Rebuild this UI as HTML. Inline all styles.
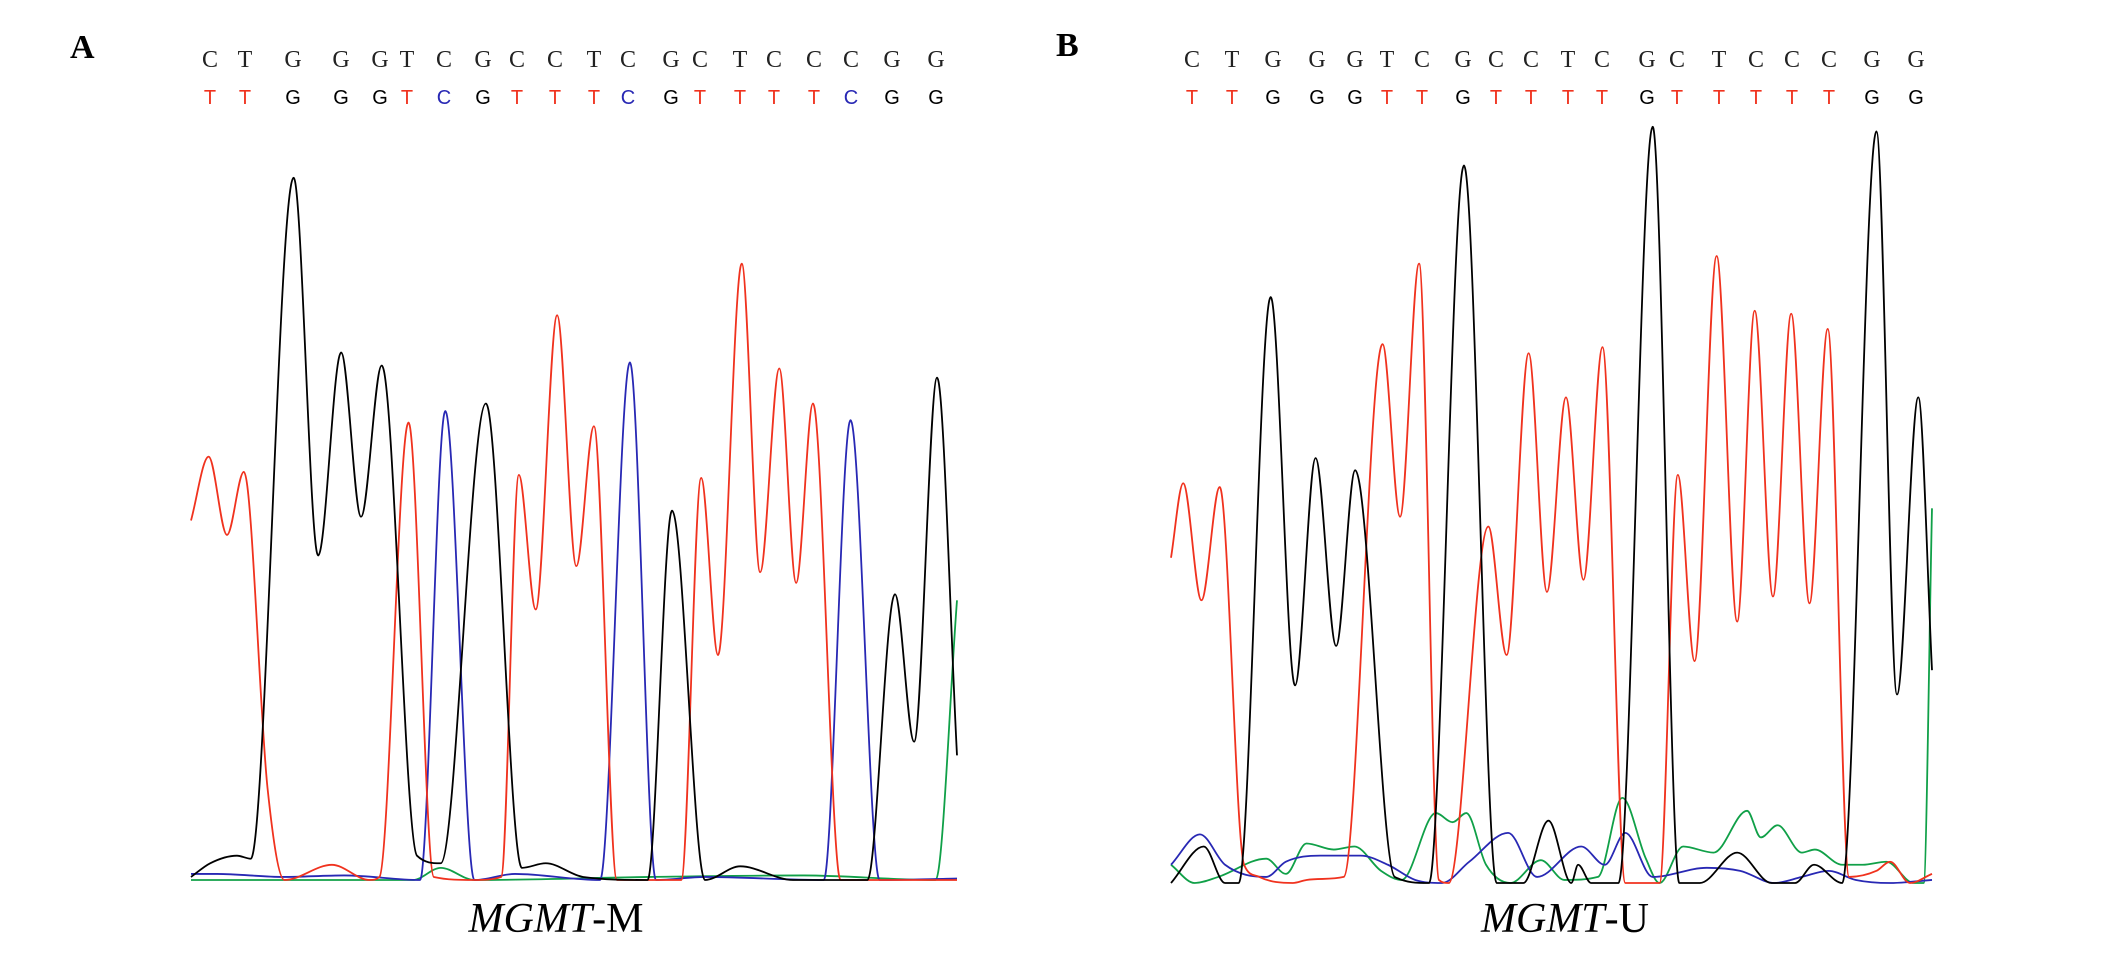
<!DOCTYPE html>
<html>
<head>
<meta charset="utf-8">
<style>
  html, body { margin: 0; padding: 0; background: #fff; }
  body { width: 2126px; height: 955px; overflow: hidden; }
  svg { display: block; }
</style>
</head>
<body>
<svg id="chart" width="2126" height="955" viewBox="0 0 2126 955" xmlns="http://www.w3.org/2000/svg">
  <text x="70" y="58" font-family="Liberation Serif, serif" font-weight="bold" font-size="34" fill="#000">A</text>
  <text x="1056" y="56" font-family="Liberation Serif, serif" font-weight="bold" font-size="34" fill="#000">B</text>
  <g id="panelA"></g>
  <g id="panelB"></g>
  <text x="556" y="932" text-anchor="middle" font-family="Liberation Serif, serif" font-size="42" fill="#000"><tspan font-style="italic">MGMT</tspan>-M</text>
  <text x="1565" y="932" text-anchor="middle" font-family="Liberation Serif, serif" font-size="42" fill="#000"><tspan font-style="italic">MGMT</tspan>-U</text>
</svg>
<script>
// ---- Panel A data (scan position 0..1000, intensity 0..1000) ----
const refSeqA = ["C","T","G","G","G","T","C","G","C","C","T","C","G","C","T","C","C","C","G","G"];
const bisSeqA = ["T","T","G","G","G","T","C","G","T","T","T","C","G","T","T","T","T","C","G","G"];
const seqPixA = [210,245,293,341,380,407,444,483,517,555,594,628,671,700,740,774,814,851,892,936];
const redA_scan = [0,23,47,69,100,122,184,233,246,284,317,370,405,428,450,478,503,526,556,640,666,688,719,743,768,790,812,848,1000];
const redA_int  = [473,557,454,537,120,0,20,0,4,602,4,0,4,533,356,743,413,597,0,0,529,296,811,405,673,391,627,0,0];
const blackA_scan = [0,25,60,78,134,166,196,222,249,295,326,385,432,463,512,596,628,671,717,786,883,919,944,974,1000];
const blackA_int  = [4,22,32,28,924,427,694,478,677,32,22,627,16,22,4,0,486,0,18,0,0,376,182,661,164];
const blueA_scan = [0,34,120,200,299,332,370,423,534,573,607,671,826,861,899,1000];
const blueA_int  = [8,8,4,6,0,617,0,8,0,681,0,4,0,605,0,2];
const greenA_scan = [0,150,290,326,370,600,800,972,1000];
const greenA_int  = [0,0,0,16,0,4,6,0,368];

// ---- Panel B data ----
const refSeqB = ["C","T","G","G","G","T","C","G","C","C","T","C","G","C","T","C","C","C","G","G"];
const bisSeqB = ["T","T","G","G","G","T","T","G","T","T","T","T","G","T","T","T","T","T","G","G"];
const seqPixB = [1192,1232,1273,1317,1355,1387,1422,1463,1496,1531,1568,1602,1647,1677,1719,1756,1792,1829,1872,1916];
const redB_scan = [0,16,40,64,96,116,160,178,227,278,301,326,352,365,417,441,470,494,519,542,567,597,642,666,688,717,744,767,791,815,839,863,891,927,945,971,1000];
const redB_int  = [428,526,372,521,24,8,0,4,8,709,482,815,4,0,469,300,697,383,639,399,705,0,0,537,292,825,344,753,377,749,368,729,8,16,28,0,12];
const blackB_scan = [0,43,71,89,131,163,190,217,242,294,339,385,428,463,496,526,535,552,588,633,668,695,744,789,820,845,882,927,954,982,1000];
const blackB_int  = [0,48,0,0,771,260,559,312,543,8,0,944,0,0,82,0,24,0,0,995,0,0,40,0,0,24,0,989,248,639,280];
const blueB_scan = [0,38,71,125,151,196,249,285,321,356,392,443,481,539,570,597,633,704,748,793,829,864,900,945,1000];
const blueB_int  = [24,64,24,8,28,36,36,24,4,0,28,66,8,48,24,66,8,20,16,0,8,16,4,0,4];
const greenB_scan = [0,31,62,125,151,178,214,241,276,303,348,370,388,414,446,486,517,561,593,624,642,673,713,757,775,797,829,846,882,909,940,976,989,1000];
const greenB_int  = [24,0,8,32,12,52,44,48,16,4,92,80,92,24,0,30,4,8,112,32,0,48,40,95,60,76,40,44,24,24,28,0,0,493];

const NS = "http://www.w3.org/2000/svg";
const COLORS = { red: "#f0321e", black: "#000000", blue: "#2828b4", green: "#10a048" };

function makeAxes(x0, x1, base) {
  return {
    x: s => x0 + (s / 1000) * (x1 - x0),
    y: v => base - (v / 1000) * 760
  };
}

// monotone cubic (Fritsch-Carlson) path
function monotonePath(xs, ys) {
  const n = xs.length;
  const d = [], m = new Array(n);
  for (let i = 0; i < n - 1; i++) d.push((ys[i+1]-ys[i])/((xs[i+1]-xs[i])||1e-6));
  m[0] = d[0]; m[n-1] = d[n-2];
  for (let i = 1; i < n - 1; i++) {
    if (d[i-1]*d[i] <= 0) m[i] = 0;
    else { m[i] = (d[i-1]+d[i])/2;
      const a = m[i]/d[i-1], b = m[i]/d[i], h = a*a+b*b;
      if (h > 9) { const t = 3/Math.sqrt(h); m[i] = t*(d[i-1]+d[i])/2; } }
  }
  let p = "M" + xs[0].toFixed(2) + "," + ys[0].toFixed(2);
  for (let i = 0; i < n - 1; i++) {
    const h = xs[i+1]-xs[i];
    p += " C" + (xs[i]+h/3).toFixed(2) + "," + (ys[i]+m[i]*h/3).toFixed(2) + " " +
         (xs[i+1]-h/3).toFixed(2) + "," + (ys[i+1]-m[i+1]*h/3).toFixed(2) + " " +
         xs[i+1].toFixed(2) + "," + ys[i+1].toFixed(2);
  }
  return p;
}

function drawTrace(g, ax, scans, ints, color, name) {
  const xs = scans.map(ax.x), ys = ints.map(ax.y);
  const path = document.createElementNS(NS, "path");
  path.setAttribute("d", monotonePath(xs, ys));
  path.setAttribute("fill", "none");
  path.setAttribute("stroke", color);
  path.setAttribute("stroke-width", "1.8");
  
  
  g.appendChild(path);
}

function seqColor(b) {
  if (b === "T") return COLORS.red;
  if (b === "C") return COLORS.blue;
  if (b === "A") return COLORS.green;
  return COLORS.black;
}

function drawSeq(g, ref, bis, xs, prefix) {
  for (let i = 0; i < ref.length; i++) {
    const t1 = document.createElementNS(NS, "text");
    t1.setAttribute("x", xs[i]); t1.setAttribute("y", 67);
    t1.setAttribute("text-anchor", "middle");
    t1.setAttribute("font-family", "Liberation Serif, serif");
    t1.setAttribute("font-size", "24");
    t1.setAttribute("fill", "#222");
    t1.textContent = ref[i];
    
    
    g.appendChild(t1);
    const t2 = document.createElementNS(NS, "text");
    t2.setAttribute("x", xs[i]); t2.setAttribute("y", 104);
    t2.setAttribute("text-anchor", "middle");
    t2.setAttribute("font-family", "Liberation Sans, sans-serif");
    t2.setAttribute("font-size", "20");
    t2.setAttribute("fill", seqColor(bis[i]));
    t2.textContent = bis[i];
    
    
    g.appendChild(t2);
  }
}

const gA = document.getElementById("panelA");
const axA = makeAxes(191, 957, 880);
drawSeq(gA, refSeqA, bisSeqA, seqPixA, "panel-a");
drawTrace(gA, axA, greenA_scan, greenA_int, COLORS.green, "trace-a-green");
drawTrace(gA, axA, blueA_scan, blueA_int, COLORS.blue, "trace-a-blue");
drawTrace(gA, axA, redA_scan, redA_int, COLORS.red, "trace-a-red");
drawTrace(gA, axA, blackA_scan, blackA_int, COLORS.black, "trace-a-black");

const gB = document.getElementById("panelB");
const axB = makeAxes(1171, 1932, 883);
drawSeq(gB, refSeqB, bisSeqB, seqPixB, "panel-b");
drawTrace(gB, axB, greenB_scan, greenB_int, COLORS.green, "trace-b-green");
drawTrace(gB, axB, blueB_scan, blueB_int, COLORS.blue, "trace-b-blue");
drawTrace(gB, axB, redB_scan, redB_int, COLORS.red, "trace-b-red");
drawTrace(gB, axB, blackB_scan, blackB_int, COLORS.black, "trace-b-black");
</script>
</body>
</html>
